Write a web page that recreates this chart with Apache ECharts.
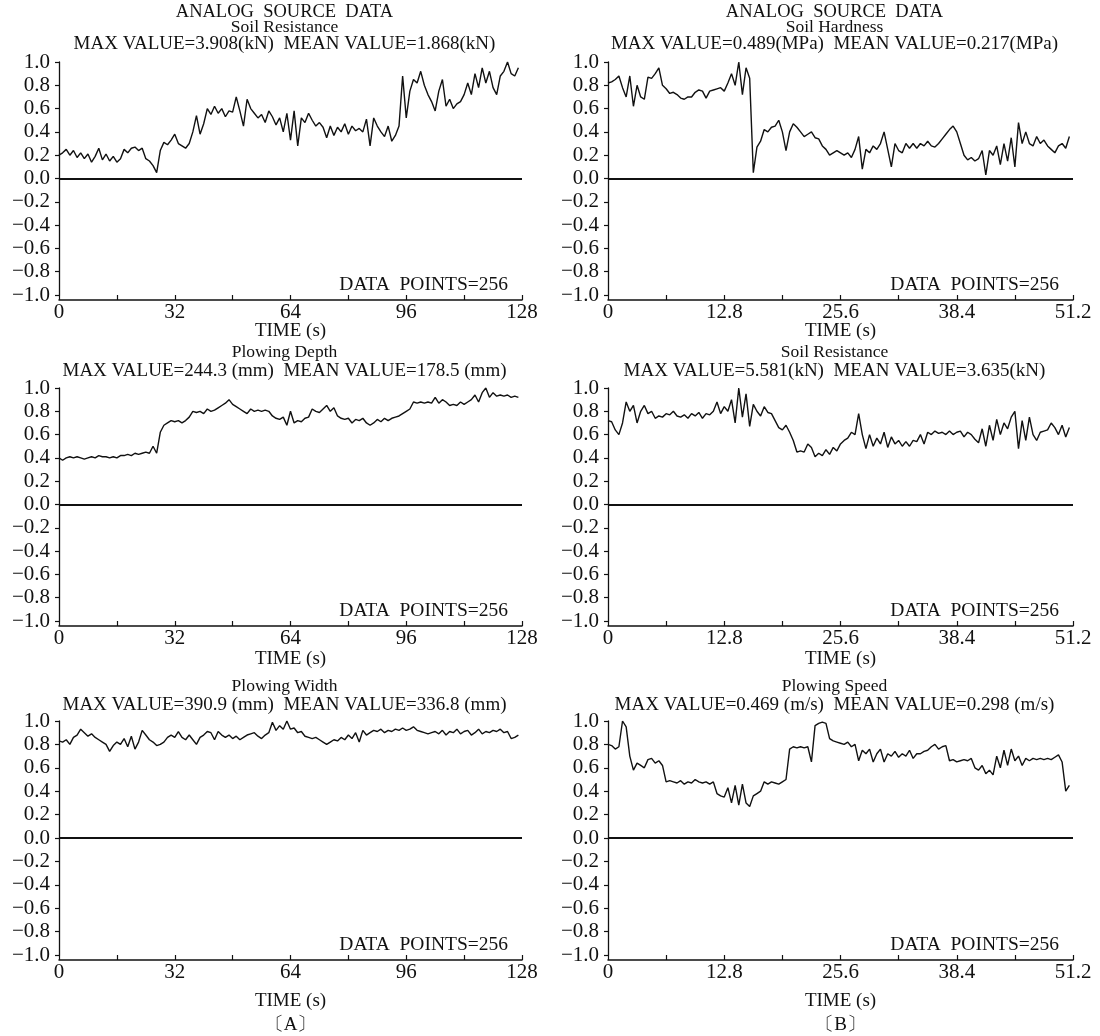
<!DOCTYPE html>
<html>
<head>
<meta charset="utf-8">
<script src="https://cdn.jsdelivr.net/npm/echarts@6/dist/echarts.min.js"></script>
<style>
  html, body { margin: 0; padding: 0; background: #fff; }
  #chart { width: 1100px; height: 1036px; }
</style>
</head>
<body>
<div id="chart"></div>
<script>
// ---- data (normalized, 128 samples per trace) ----
const titlesTop = ['ANALOG  SOURCE  DATA', 'ANALOG  SOURCE  DATA'];
const panelNames = ['Soil Resistance', 'Soil Hardness', 'Plowing Depth', 'Soil Resistance', 'Plowing Width', 'Plowing Speed'];
const panelStats = [
  'MAX VALUE=3.908(kN)  MEAN VALUE=1.868(kN)',
  'MAX VALUE=0.489(MPa)  MEAN VALUE=0.217(MPa)',
  'MAX VALUE=244.3 (mm)  MEAN VALUE=178.5 (mm)',
  'MAX VALUE=5.581(kN)  MEAN VALUE=3.635(kN)',
  'MAX VALUE=390.9 (mm)  MEAN VALUE=336.8 (mm)',
  'MAX VALUE=0.469 (m/s)  MEAN VALUE=0.298 (m/s)'
];
const pointsLabel = 'DATA  POINTS=256';
const groupLabels = ['〔A〕', '〔B〕'];
const timeMaxA = 128, timeStepA = 1, timeTickA = 16;
const timeMaxB = 51.2, timeStepB = 0.4, timeTickB = 6.4;

const soilResistanceA = [
  0.20,0.22,0.25,0.20,0.24,0.18,0.22,0.17,0.21,0.14,0.19,0.26,0.16,0.21,0.15,0.19,0.14,
  0.17,0.25,0.22,0.26,0.27,0.24,
  0.26,0.17,0.15,0.11,0.05,
  0.24,0.31,0.29,0.33,0.38,0.30,
  0.28,0.26,0.30,0.40,
  0.54,0.38,0.47,
  0.60,0.55,0.62,0.56,0.60,0.53,0.58,0.57,0.70,0.58,
  0.45,0.68,
  0.60,0.56,0.52,0.55,0.48,0.58,0.53,
  0.46,0.52,0.40,0.56,0.33,0.58,0.28,
  0.52,0.48,0.56,0.50,0.45,0.48,0.44,
  0.35,0.45,0.37,0.44,0.40,0.47,0.38,0.45,0.41,0.43,0.40,0.51,
  0.28,0.52,
  0.45,0.40,0.36,0.45,0.32,0.37,
  0.45,0.88,
  0.52,0.75,0.85,0.82,0.92,0.80,0.72,0.66,0.58,0.75,
  0.85,0.62,0.68,0.60,0.64,0.66,0.72,0.82,
  0.72,0.90,0.78,0.95,0.82,0.92,0.78,
  0.72,0.88,0.92,1.00,0.90,0.88,0.95
];
const soilHardnessB = [
  0.82,0.83,0.85,0.88,0.78,0.70,0.88,0.62,0.80,0.70,
  0.68,0.87,0.86,0.90,0.95,0.80,0.77,0.73,0.74,0.72,
  0.69,0.68,0.70,0.70,0.74,0.76,0.75,0.69,0.75,0.76,
  0.77,0.78,0.75,0.82,0.90,0.80,1.00,0.72,0.95,0.86,
  0.05,0.27,0.32,0.42,0.40,0.44,0.45,0.50,0.40,0.24,
  0.40,0.47,0.44,0.40,0.36,0.38,0.40,0.35,0.34,0.28,
  0.25,0.20,0.22,0.24,0.22,0.20,0.22,0.18,0.25,0.36,
  0.08,0.25,0.22,0.28,0.25,0.30,0.40,0.25,0.10,0.30,
  0.24,0.22,0.30,0.26,0.30,0.26,0.30,0.28,0.32,0.28,
  0.27,0.30,0.34,0.38,0.42,0.45,0.40,0.30,0.20,0.16,
  0.18,0.15,0.17,0.24,0.03,0.24,0.20,0.28,0.12,0.30,
  0.15,0.35,0.10,0.48,0.30,0.40,0.30,0.28,0.36,0.30,
  0.33,0.28,0.25,0.22,0.28,0.30,0.26,0.36
];
const plowingDepthA = [
  0.40,0.38,0.40,0.41,0.40,0.41,0.40,0.39,0.40,0.41,
  0.40,0.42,0.41,0.41,0.40,0.41,0.40,0.42,0.42,0.43,
  0.42,0.44,0.43,0.44,0.45,0.44,0.50,0.44,0.62,0.68,
  0.70,0.72,0.71,0.72,0.70,0.72,0.75,0.80,0.79,0.80,
  0.78,0.82,0.80,0.81,0.83,0.85,0.87,0.90,0.86,0.84,
  0.82,0.80,0.78,0.82,0.80,0.81,0.80,0.81,0.80,0.76,
  0.74,0.73,0.75,0.68,0.80,0.70,0.72,0.71,0.74,0.75,
  0.82,0.80,0.79,0.82,0.85,0.80,0.83,0.76,0.74,0.73,
  0.74,0.70,0.73,0.72,0.74,0.70,0.68,0.70,0.73,0.71,
  0.74,0.72,0.74,0.75,0.76,0.78,0.80,0.82,0.88,0.87,
  0.88,0.87,0.88,0.87,0.92,0.87,0.90,0.88,0.85,0.86,
  0.85,0.88,0.86,0.88,0.90,0.94,0.88,0.96,1.00,0.92,
  0.96,0.93,0.94,0.93,0.94,0.92,0.93,0.92
];
const soilResistanceB = [
  0.72,0.71,0.64,0.60,0.70,0.88,0.80,0.85,0.70,0.80,
  0.85,0.78,0.80,0.74,0.76,0.75,0.78,0.77,0.80,0.76,
  0.75,0.77,0.74,0.78,0.76,0.79,0.74,0.78,0.77,0.80,
  0.88,0.78,0.84,0.80,0.90,0.70,1.00,0.75,0.95,0.67,
  0.86,0.80,0.76,0.84,0.79,0.78,0.72,0.66,0.64,0.68,
  0.62,0.55,0.45,0.46,0.45,0.52,0.49,0.41,0.44,0.42,
  0.47,0.43,0.49,0.46,0.52,0.55,0.57,0.62,0.60,0.78,
  0.60,0.48,0.60,0.50,0.57,0.52,0.62,0.49,0.58,0.52,
  0.55,0.50,0.54,0.50,0.55,0.54,0.60,0.52,0.62,0.60,
  0.63,0.61,0.62,0.60,0.63,0.60,0.62,0.63,0.58,0.62,
  0.60,0.56,0.53,0.65,0.50,0.68,0.55,0.73,0.60,0.70,
  0.65,0.75,0.80,0.48,0.72,0.55,0.75,0.60,0.55,0.62,
  0.63,0.64,0.70,0.66,0.60,0.68,0.58,0.66
];
const plowingWidthA = [
  0.83,0.82,0.84,0.80,0.86,0.88,0.93,0.90,0.87,0.89,
  0.86,0.84,0.82,0.80,0.74,0.79,0.82,0.80,0.85,0.78,
  0.87,0.76,0.82,0.92,0.88,0.84,0.82,0.79,0.80,0.82,
  0.86,0.88,0.86,0.91,0.86,0.84,0.88,0.84,0.80,0.86,
  0.88,0.91,0.90,0.84,0.91,0.88,0.86,0.88,0.85,0.87,
  0.84,0.86,0.88,0.89,0.90,0.87,0.85,0.88,0.90,0.99,
  0.92,0.96,0.93,1.00,0.93,0.94,0.90,0.91,0.87,0.86,
  0.85,0.86,0.84,0.82,0.80,0.82,0.84,0.83,0.86,0.84,
  0.88,0.85,0.90,0.82,0.92,0.88,0.90,0.92,0.91,0.93,
  0.90,0.92,0.91,0.93,0.92,0.94,0.92,0.93,0.95,0.92,
  0.91,0.90,0.89,0.90,0.91,0.89,0.92,0.88,0.91,0.90,
  0.93,0.89,0.91,0.92,0.88,0.90,0.93,0.89,0.91,0.90,
  0.92,0.91,0.93,0.90,0.91,0.85,0.86,0.88
];
const plowingSpeedB = [
  0.80,0.79,0.76,0.78,1.00,0.95,0.70,0.58,0.64,0.62,
  0.60,0.67,0.68,0.64,0.66,0.62,0.48,0.49,0.48,0.47,
  0.49,0.46,0.48,0.47,0.50,0.48,0.47,0.48,0.46,0.48,
  0.38,0.36,0.35,0.43,0.30,0.45,0.28,0.46,0.30,0.27,
  0.36,0.38,0.40,0.48,0.46,0.48,0.47,0.46,0.48,0.50,
  0.76,0.78,0.77,0.78,0.77,0.78,0.65,0.96,0.98,0.99,
  0.98,0.85,0.83,0.82,0.81,0.80,0.82,0.78,0.80,0.66,
  0.75,0.72,0.76,0.65,0.72,0.76,0.65,0.72,0.70,0.74,
  0.69,0.72,0.70,0.75,0.68,0.72,0.72,0.74,0.75,0.78,
  0.80,0.76,0.78,0.79,0.66,0.67,0.65,0.66,0.67,0.66,
  0.68,0.60,0.58,0.62,0.55,0.58,0.54,0.70,0.60,0.75,
  0.62,0.76,0.66,0.70,0.62,0.68,0.66,0.68,0.67,0.68,
  0.67,0.68,0.67,0.69,0.71,0.65,0.40,0.45
];

// ---- layout ----
const FONT = '"Liberation Serif", "DejaVu Serif", serif';
const colX = [{ left: 59, width: 463 }, { left: 608, width: 465 }];
const rowY = [
  { top: 62, height: 233, name1: 12, name2: 27, stats: 44, time: 331 },
  { top: 388, height: 233, name2: 352, stats: 371, time: 659 },
  { top: 721, height: 234, name2: 686, stats: 705, time: 1001, group: 1025 }
];
const panels = [
  { row: 0, col: 0, values: soilResistanceA, kind: 'A' },
  { row: 0, col: 1, values: soilHardnessB, kind: 'B' },
  { row: 1, col: 0, values: plowingDepthA, kind: 'A' },
  { row: 1, col: 1, values: soilResistanceB, kind: 'B' },
  { row: 2, col: 0, values: plowingWidthA, kind: 'A' },
  { row: 2, col: 1, values: plowingSpeedB, kind: 'B' }
];

const grid = [], xAxis = [], yAxis = [], series = [], graphic = [];

function yLabel(v) {
  const r = Math.round(v * 10) / 10;
  if (Math.abs(r) < 1e-9) return '0.0';
  return r < 0 ? '\u2212' + Math.abs(r).toFixed(1) : r.toFixed(1);
}
function xLabelA(v) {
  const k = Math.round(v / timeTickA);
  return k % 2 === 0 ? String(Math.round(v)) : '';
}
function xLabelB(v) {
  const k = Math.round(v / timeTickB);
  if (k % 2 !== 0) return '';
  return k === 0 ? '0' : (k * timeTickB).toFixed(1);
}
function text(str, x, y, size, align) {
  graphic.push({
    type: 'text', silent: true,
    style: { text: str, x: x, y: y, fill: '#111', font: size + 'px ' + FONT,
             textAlign: align || 'center', textVerticalAlign: 'middle' }
  });
}

panels.forEach((p, i) => {
  const c = colX[p.col], r = rowY[p.row];
  const isA = p.kind === 'A';
  grid.push({ left: c.left, width: c.width, top: r.top, height: r.height, containLabel: false });
  xAxis.push({
    gridIndex: i, type: 'value', min: 0,
    max: isA ? timeMaxA : timeMaxB,
    interval: isA ? timeTickA : timeTickB,
    offset: 5,
    axisLine: { onZero: false, lineStyle: { color: '#111', width: 1.5 } },
    axisTick: { inside: true, length: 5, lineStyle: { color: '#111', width: 1.2 } },
    axisLabel: { formatter: isA ? xLabelA : xLabelB, color: '#111', fontFamily: FONT, fontSize: 21, margin: 2 },
    splitLine: { show: false }
  });
  yAxis.push({
    gridIndex: i, type: 'value', min: -1, max: 1, interval: 0.2,
    offset: 7,
    axisLine: { show: true, lineStyle: { color: '#111', width: 1.3 } },
    axisTick: { show: true, length: 4, lineStyle: { color: '#111', width: 1.2 } },
    axisLabel: { formatter: yLabel, color: '#111', fontFamily: FONT, fontSize: 21, margin: 2 },
    splitLine: { show: false }
  });
  const step = isA ? timeStepA : timeStepB;
  series.push({
    type: 'line', xAxisIndex: i, yAxisIndex: i,
    data: p.values.map((v, k) => [k * step, v]),
    showSymbol: false, symbol: 'none',
    lineStyle: { color: '#111', width: 1.4 },
    markLine: {
      silent: true, symbol: ['none', 'none'],
      label: { show: false },
      lineStyle: { color: '#111', width: 2.2, type: 'solid' },
      data: [{ yAxis: 0 }]
    }
  });

  const cx = c.left + c.width / 2 - 6;
  if (r.name1 !== undefined) text(titlesTop[p.col], cx, r.name1, 18.5);
  text(panelNames[i], cx, r.name2, 17.5);
  text(panelStats[i], cx, r.stats, 19);
  text('TIME (s)', c.left + c.width / 2, r.time, 19);
  text(pointsLabel, c.left + c.width - 14, r.top + r.height - 10, 19.5, 'right');
  if (r.group !== undefined) text(groupLabels[p.col], c.left + c.width / 2, r.group, 19);
});

const chart = echarts.init(document.getElementById('chart'), null, { renderer: 'canvas' });
chart.setOption({
  animation: false,
  backgroundColor: '#fff',
  grid, xAxis, yAxis, series, graphic
});
</script>
</body>
</html>
